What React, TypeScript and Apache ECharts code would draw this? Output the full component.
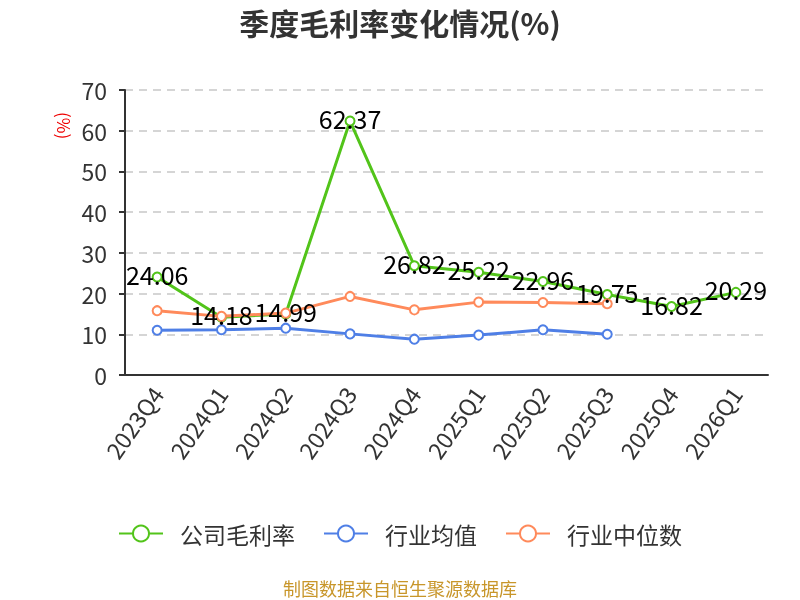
import * as echarts from "echarts";
import { useEffect, useRef } from "react";

const quarters = [
  "2023Q4", "2024Q1", "2024Q2", "2024Q3", "2024Q4",
  "2025Q1", "2025Q2", "2025Q3", "2025Q4", "2026Q1",
];
const companyMargin = [24.06, 14.18, 14.99, 62.37, 26.82, 25.22, 22.96, 19.75, 16.82, 20.29];
const industryAvg = [11.0, 11.1, 11.5, 10.1, 8.8, 9.8, 11.1, 10.0];
const industryMedian = [15.8, 14.4, 15.2, 19.3, 16.0, 17.9, 17.8, 17.5];

const FONT = "'Noto Sans CJK SC', 'Noto Sans', sans-serif";

export default function App() {
  const ref = useRef<HTMLDivElement>(null);

  useEffect(() => {
    if (!ref.current) return;
    const chart = echarts.init(ref.current, undefined, { renderer: "svg" });

    chart.setOption({
      animation: false,
      textStyle: { fontFamily: FONT },
      title: {
        text: "季度毛利率变化情况(%)",
        left: "center",
        top: 2,
        textStyle: { fontSize: 30, fontWeight: "bold", color: "#333" }
      },
      grid: { left: 125, right: 32, top: 90, bottom: 225 },
      legend: {
        bottom: 50,
        itemWidth: 44,
        itemHeight: 20,
        itemGap: 28,
        textStyle: { fontSize: 23, color: "#333", padding: [0, 0, 0, 12] },
        data: ["公司毛利率", "行业均值", "行业中位数"]
      },
      graphic: [
        {
          type: "text",
          x: 73,
          y: 112,
          rotation: -Math.PI / 2,
          style: { text: "(%)", fill: "#e00", font: `17px ${FONT}` }
        },
        {
          type: "text",
          left: "center",
          bottom: 3,
          style: { text: "制图数据来自恒生聚源数据库", fill: "#c8962a", font: `18px ${FONT}` }
        }
      ],
      xAxis: {
        type: "category",
        data: quarters,
        axisLine: { lineStyle: { color: "#333", width: 2 } },
        axisTick: { lineStyle: { color: "#333", width: 2 }, length: 6 },
        axisLabel: { rotate: 55, fontSize: 23, color: "#333", margin: 14 }
      },
      yAxis: {
        type: "value",
        min: 0,
        max: 70,
        interval: 10,
        axisLine: { show: true, lineStyle: { color: "#333", width: 2 } },
        axisTick: { show: true, lineStyle: { color: "#333", width: 2 }, length: 6 },
        axisLabel: { fontSize: 23, color: "#333", margin: 18 },
        splitLine: { lineStyle: { type: [8, 6], color: "#c8c8c8", width: 1.5 } }
      },
      series: [
        {
          name: "公司毛利率",
          type: "line",
          data: companyMargin,
          symbol: "emptyCircle",
          symbolSize: 9,
          color: "#52c41a",
          lineStyle: { width: 3 },
          z: 3,
          label: {
            show: true,
            position: "inside",
            offset: [0, -3],
            fontSize: 25,
            color: "#000"
          }
        },
        {
          name: "行业均值",
          type: "line",
          data: industryAvg,
          symbol: "emptyCircle",
          symbolSize: 9,
          color: "#4f7fe6",
          lineStyle: { width: 3 }
        },
        {
          name: "行业中位数",
          type: "line",
          data: industryMedian,
          symbol: "emptyCircle",
          symbolSize: 9,
          color: "#ff8a5b",
          lineStyle: { width: 3 }
        }
      ]
    });

    return () => chart.dispose();
  }, []);

  return (
    <div
      ref={ref}
      style={{ position: "fixed", left: 0, top: 0, width: 800, height: 600 }}
    />
  );
}
